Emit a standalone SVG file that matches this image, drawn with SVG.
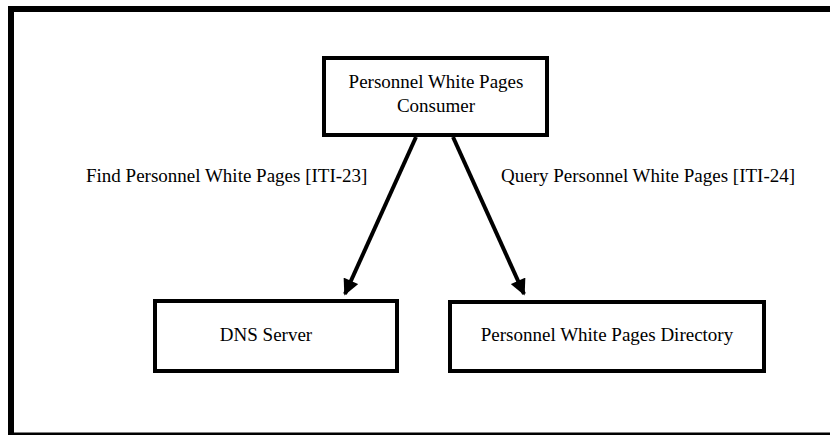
<svg xmlns="http://www.w3.org/2000/svg" width="830" height="435" viewBox="0 0 830 435">
<style>
.box{fill:#fff;stroke:#000;stroke-width:4}
.t{font-family:'Liberation Serif','Times New Roman','DejaVu Serif',serif;font-size:19px;fill:#000}
.c{text-anchor:middle}
.edge{stroke:#000;stroke-width:4;fill:none}
</style>
<defs>
<marker id="ah" viewBox="0 0 10 10" refX="9" refY="5" markerWidth="4.2" markerHeight="4" orient="auto" markerUnits="strokeWidth">
<path d="M0,0 L10,5 L0,10 z" fill="#000"/>
</marker>
</defs>
<rect width="830" height="435" fill="#fff"/>
<g id="frame">
<rect x="8" y="6" width="6" height="429" fill="#000"/>
<rect x="8" y="6" width="822" height="6" fill="#000"/>
<rect x="8" y="432.5" width="822" height="2.5" fill="#000"/>
</g>
<g id="connectors">
<line class="edge" x1="416" y1="137" x2="345" y2="294" marker-end="url(#ah)"/>
<line class="edge" x1="453" y1="137" x2="524" y2="294" marker-end="url(#ah)"/>
<text class="t" x="86" y="182">Find Personnel White Pages [ITI-23]</text>
<text class="t" x="501" y="182">Query Personnel White Pages [ITI-24]</text>
</g>
<g id="consumer">
<rect class="box" x="324" y="58" width="223" height="77"/>
<text class="t c" x="436" y="88">Personnel White Pages</text>
<text class="t c" x="436" y="112">Consumer</text>
</g>
<g id="dns">
<rect class="box" x="155" y="301" width="242" height="70"/>
<text class="t c" x="266" y="341">DNS Server</text>
</g>
<g id="directory">
<rect class="box" x="450" y="302" width="314" height="69"/>
<text class="t c" x="607" y="341">Personnel White Pages Directory</text>
</g>
</svg>
